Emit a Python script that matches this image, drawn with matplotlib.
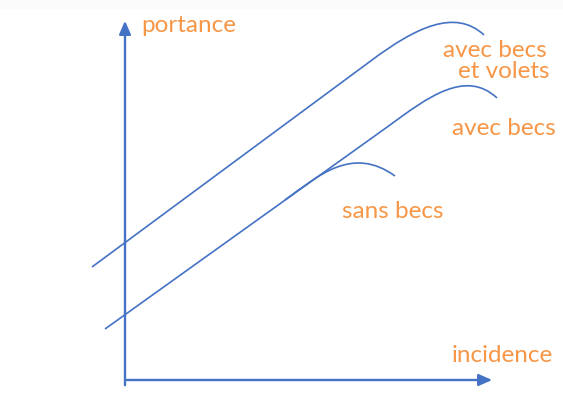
import matplotlib
matplotlib.use("Agg")
from matplotlib import pyplot as plt
from matplotlib.path import Path
from matplotlib.patches import PathPatch

# pixel coordinates (y grows downward)
volets_pts = [(92, 268), (372, 61), (415, 29), (455, 9), (484, 36)]
becs_pts = [(105, 330), (390, 126), (428, 98), (466, 70), (497, 99)]
sans_pts = [(285, 201), (318, 177), (352, 146), (395, 177)]

labels = ["portance", "avec becs", "et volets", "avec becs", "sans becs", "incidence"]
label_pos = [(141, 32), (547, 57), (549, 78), (556, 135), (443, 218), (553, 362)]
label_ha = ["left", "right", "right", "right", "right", "right"]

blue = "#4472C4"
orange = "#F79646"

fig = plt.figure(figsize=(5.63, 4.14), dpi=100)
ax = fig.add_axes([0, 0, 1, 1])
ax.set_xlim(0, 563)
ax.set_ylim(414, 0)
ax.axis("off")

# faint band at the very top
ax.axhspan(0, 10, color="#fafafa", lw=0)

# axes with arrows
arrow = dict(arrowstyle="-|>,head_length=0.8,head_width=0.35", color=blue, lw=1.7)
ax.annotate("", xy=(125, 19), xytext=(125, 389), arrowprops=arrow)
ax.annotate("", xy=(495, 381), xytext=(124, 381), arrowprops=arrow)


def curve(pts, codes):
    p = PathPatch(Path(pts, codes), fill=False, edgecolor=blue, lw=1.2)
    ax.add_patch(p)


curve(volets_pts, [Path.MOVETO, Path.LINETO, Path.CURVE4, Path.CURVE4, Path.CURVE4])
curve(becs_pts, [Path.MOVETO, Path.LINETO, Path.CURVE4, Path.CURVE4, Path.CURVE4])
curve(sans_pts, [Path.MOVETO, Path.CURVE4, Path.CURVE4, Path.CURVE4])

for t, (x, y), ha in zip(labels, label_pos, label_ha):
    ax.text(x, y, t, color=orange, fontsize=17.5, ha=ha, va="baseline",
            family=["Lato", "DejaVu Sans"])

fig.savefig("out.png", dpi=100)
